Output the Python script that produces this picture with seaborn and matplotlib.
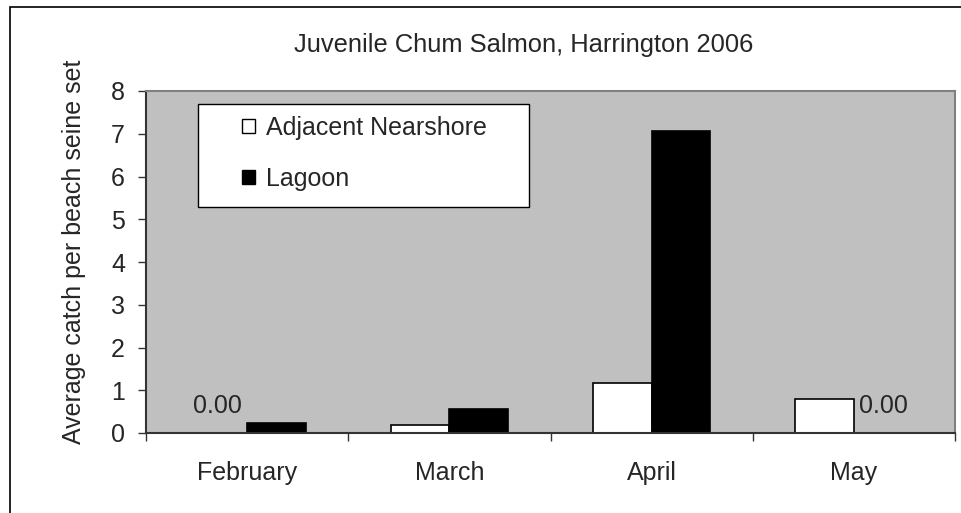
import numpy as np
import pandas as pd
import matplotlib
matplotlib.use("Agg")
import matplotlib.pyplot as plt
from matplotlib.patches import Patch, Rectangle
import seaborn as sns

months = ["February", "March", "April", "May"]
nearshore = [0.00, 0.19, 1.16, 0.79]
lagoon = [0.23, 0.56, 7.07, 0.00]
series = ["Adjacent Nearshore", "Lagoon"]
title = "Juvenile Chum Salmon, Harrington 2006"
ylabel = "Average catch per beach seine set"
yticks = [0, 1, 2, 3, 4, 5, 6, 7, 8]

df = pd.DataFrame({
    "Month": months * 2,
    "Catch": nearshore + lagoon,
    "Site": [series[0]] * len(months) + [series[1]] * len(months),
})

sns.set_style("white")
plt.rcParams["font.family"] = ["Liberation Sans", "DejaVu Sans"]
FS = 18

fig = plt.figure(figsize=(9.61, 5.13), dpi=100)
W, H = 961, 513
ax = fig.add_axes([146 / W, 1 - 433 / H, (955 - 146) / W, (433 - 91) / H])
ax.set_facecolor("#C0C0C0")

sns.barplot(data=df, x="Month", y="Catch", hue="Site", order=months,
            hue_order=series, palette=["white", "black"], edgecolor="black",
            linewidth=1.2, width=0.58, legend=False, ax=ax, zorder=2)

ax.set_xlim(-0.5, len(months) - 0.5)
ax.set_ylim(0, 8)
ax.set_yticks(yticks)
ax.set_yticklabels([str(t) for t in yticks], fontsize=FS)
ax.set_xticks(range(len(months)))
ax.set_xticklabels(months, fontsize=FS)
ax.set_xticks(np.arange(-0.5, len(months), 1), minor=True)
ax.tick_params(axis="x", which="major", length=0, pad=20)
ax.tick_params(axis="x", which="minor", length=5.8, width=1, color="#333333", direction="out", bottom=True)
ax.tick_params(axis="y", which="major", length=5.8, width=1, color="#333333", direction="out", pad=9.4, left=True)
ax.set_xlabel("")
ax.set_ylabel(ylabel, fontsize=FS)
ax.yaxis.set_label_coords((86 - 146) / (955 - 146), (433 - 252) / (433 - 91))

for side in ["top", "right"]:
    ax.spines[side].set_color("#808080")
    ax.spines[side].set_linewidth(1.5)
    ax.spines[side].set_visible(True)
for side in ["left", "bottom"]:
    ax.spines[side].set_color("#333333")
    ax.spines[side].set_linewidth(1.5)
    ax.spines[side].set_visible(True)

# data labels for zero-valued bars
for cont, vals in zip(ax.containers, [nearshore, lagoon]):
    labels = ["%.2f" % v if v == 0 else "" for v in vals]
    ax.bar_label(cont, labels=labels, padding=10.5, fontsize=FS)

# legend frame and legend
ax.add_patch(Rectangle((52 / 809, (433 - 207) / 342), 331 / 809, 103 / 342,
                       transform=ax.transAxes, facecolor="white", edgecolor="black",
                       linewidth=1.0, zorder=4))
handles = [Patch(facecolor="white", edgecolor="black", linewidth=1.0),
           Patch(facecolor="black", edgecolor="black", linewidth=1.0)]
leg = ax.legend(handles, series, loc="upper left",
                bbox_to_anchor=((242 - 146) / 809, (433 - 116) / 342),
                frameon=False, fontsize=FS, borderpad=0, borderaxespad=0,
                handlelength=0.5, handleheight=0.5, handletextpad=0.45,
                labelspacing=1.08)
leg.set_zorder(5)

fig.text(524 / W, 1 - 45 / H, title, ha="center", va="center", fontsize=18.4)

# chart area border (extends past the right and bottom edges)
fig.patches.append(Rectangle((10 / W, -0.1), 1.2, 1 - 7 / H + 0.1, transform=fig.transFigure,
                             fill=False, edgecolor="black", linewidth=1.2, zorder=10))

fig.savefig("out.png", dpi=100)
